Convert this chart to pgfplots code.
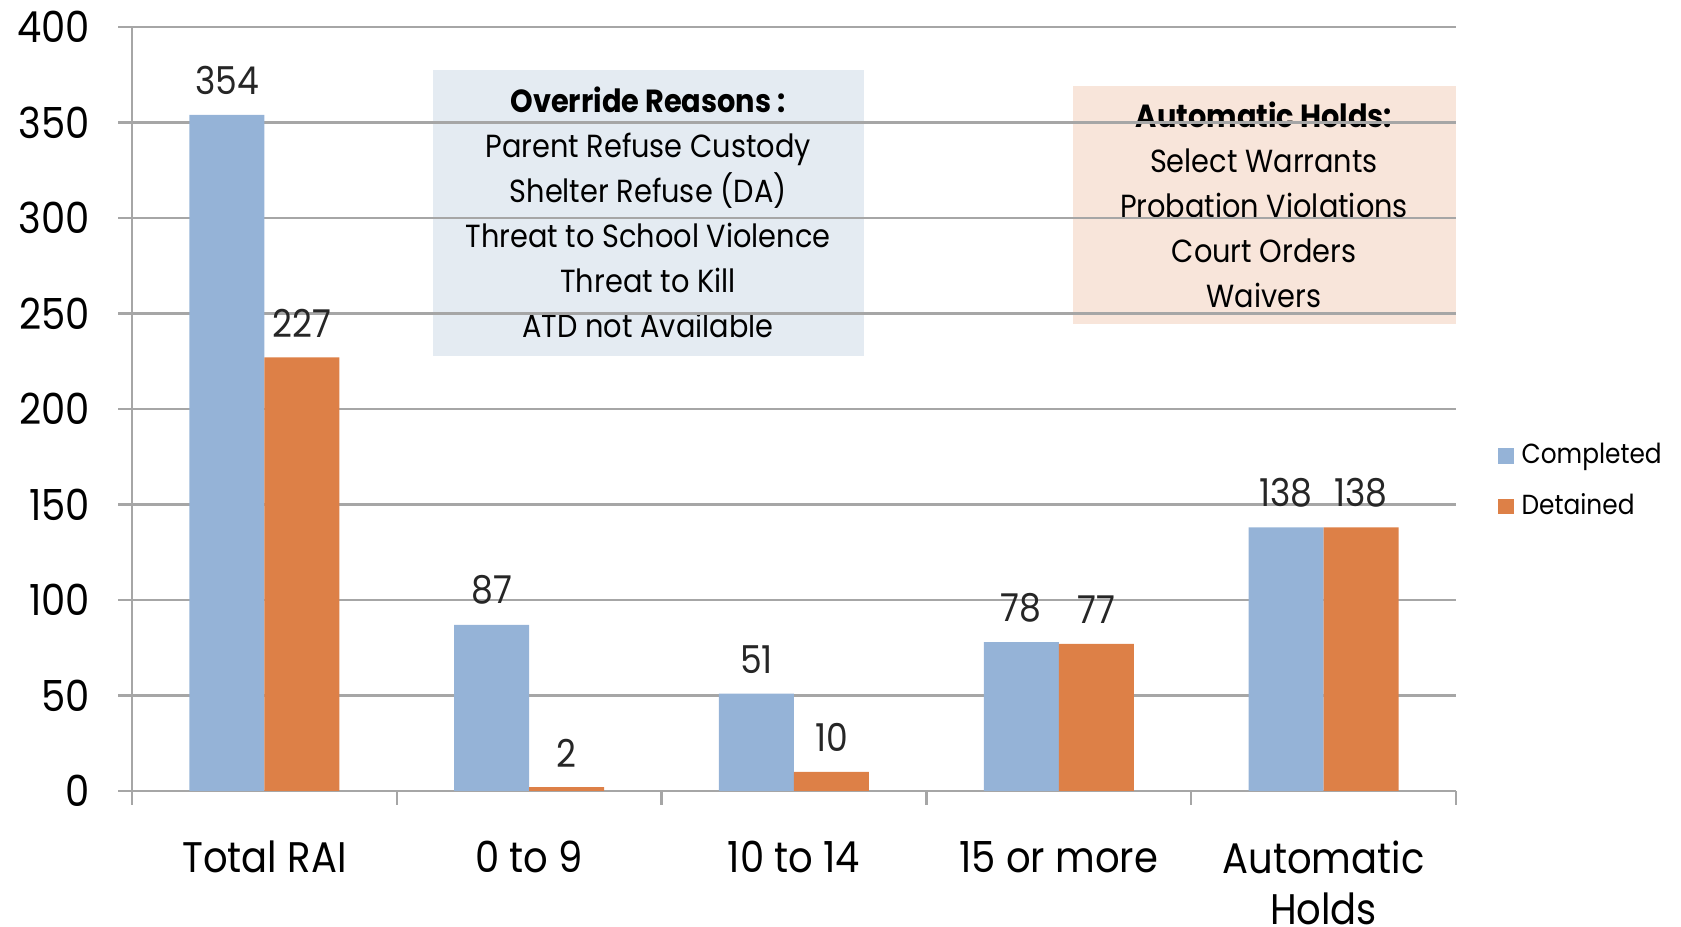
\documentclass[border=0pt]{standalone}
\usepackage{fontspec}
\setmainfont{Poppins}[FakeStretch=0.9]
\usepackage{pgfplots}
\pgfplotsset{compat=1.18}
\definecolor{compl}{HTML}{95B3D7}
\definecolor{detn}{HTML}{DD8047}
\definecolor{gridc}{HTML}{A6A6A6}
\definecolor{boxblue}{HTML}{E4EBF2}
\definecolor{boxpeach}{HTML}{F8E5DA}

\begin{document}
\begin{tikzpicture}
  \begin{axis}[
      set layers,
      scale only axis, width=331pt, height=191pt,
      ybar=0pt, bar width=18.75pt,
      xmin=-0.5, xmax=4.5, ymin=0, ymax=400,
      axis x line*=bottom, axis y line*=left,
      axis line style={gridc, line width=0.6pt},
      xtick={0,...,4},
      xticklabels={Total RAI, 0 to 9, 10 to 14, 15 or more, {Automatic\\Holds}},
      xticklabel style={align=center, font=\fontsize{10.7}{12.6}\selectfont, yshift=-5.5pt},
      major x tick style={draw=none},
      minor xtick={-0.5,0.5,...,4.5},
      minor x tick style={gridc, line width=0.6pt},
      ytick={0,50,...,400},
      yticklabel style={font=\fontsize{10.7}{12}\selectfont, xshift=-3.5pt},
      /pgf/number format/assume math mode=true,
      y tick style={gridc, line width=0.6pt},
      tick align=outside,
      major tick length=3.5pt, minor tick length=3.5pt,
      ymajorgrids, grid style={gridc, line width=0.6pt},
      nodes near coords,
      every node near coord/.append style={font=\fontsize{9.6}{10}\selectfont, black!85, yshift=1.5pt},
      legend style={at={(1,0.405)}, anchor=west, xshift=10.4pt, draw=none, fill=none,
        font=\fontsize{6.9}{8}\selectfont, row sep=2pt, inner sep=0pt,
        cells={anchor=west}},
      legend image code/.code={\fill[#1] (0pt,-1.9pt) rectangle (3.8pt,1.9pt);},
    ]
    \addplot[fill=compl, draw=none] coordinates {(0,354) (1,87) (2,51) (3,78) (4,138)};
    \addplot[fill=detn, draw=none] coordinates {(0,227) (1,2) (2,10) (3,77) (4,138)};
    \addlegendentry{Completed}
    \addlegendentry{Detained}

    \begin{pgfonlayer}{axis background}
      \node[fill=boxblue, minimum width=107.75pt, minimum height=71.6pt, inner sep=0pt,
        align=center, font=\fontsize{8}{11.25}\selectfont]
        at (axis cs:1.449,302.7)
        {\textbf{Override Reasons :}\\Parent Refuse Custody\\Shelter Refuse (DA)\\Threat to School Violence\\Threat to Kill\\ATD not Available};
      \node[fill=boxpeach, minimum width=95.75pt, minimum height=59.5pt, inner sep=0pt,
        align=center, font=\fontsize{8}{11.25}\selectfont]
        at (axis cs:3.775,306.9)
        {\textbf{Automatic Holds:}\\Select Warrants\\Probation Violations\\Court Orders\\Waivers};
    \end{pgfonlayer}
  \end{axis}
  \pgfresetboundingbox
  \path (-33pt,-34pt) rectangle (387.25pt,197.75pt);
\end{tikzpicture}
\end{document}
